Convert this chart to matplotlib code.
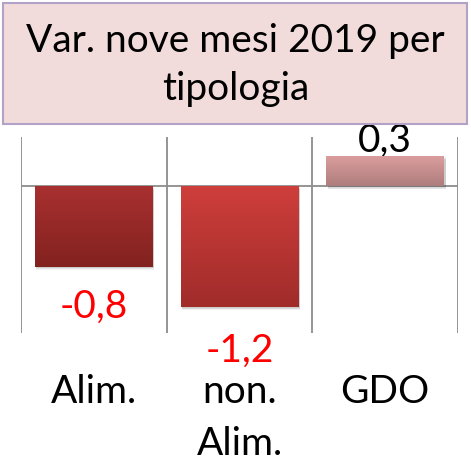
import numpy as np
import matplotlib.pyplot as plt
from matplotlib.patches import Rectangle
from matplotlib.colors import LinearSegmentedColormap

categories = [['Alim.'], ['non.', 'Alim.'], ['GDO']]
values = [-0.8, -1.2, 0.3]
value_labels = ['-0,8', '-1,2', '0,3']
label_colors = ['#FF0000', '#FF0000', '#000000']
# gradient colours (top, bottom) for each bar
grad_top = ['#A83030', '#CE3E3B', '#DC9E9E']
grad_bot = ['#82221F', '#A02C2A', '#AE7D7D']

plt.rcParams['font.family'] = ['Lato', 'DejaVu Sans']

W, H = 471, 469
fig = plt.figure(figsize=(W / 100, H / 100), dpi=100)

# title box
fig.patches.append(Rectangle((3 / W, 1 - 124 / H), 464 / W, 121 / H,
                             transform=fig.transFigure, fc='#F2DCDB',
                             ec='#B3A2C7', lw=1.5))
fig.text(0.5, 1 - 52 / H, 'Var. nove mesi 2019 per', ha='center', va='baseline', fontsize=28)
fig.text(0.5, 1 - 100 / H, 'tipologia', ha='center', va='baseline', fontsize=28)

ax = fig.add_axes([21 / W, 1 - 333 / H, 437 / W, 196 / H])
x = np.arange(len(values))
width = 0.81

# shadows
for xi, v in zip(x, values):
    for k in range(4):
        off = 0.012 + k * 0.006
        ax.add_patch(Rectangle((xi - width / 2 + 0.01, min(0, v) - off), width, abs(v),
                               fc='black', alpha=0.05, lw=0, zorder=2))

bars = ax.bar(x, values, width=width, color=grad_top, zorder=3)
for b, ct, cb in zip(bars, grad_top, grad_bot):
    cmap = LinearSegmentedColormap.from_list('g', [cb, ct])
    bx, by = b.get_x(), b.get_y()
    bw, bh = b.get_width(), b.get_height()
    grad = np.linspace(0, 1, 100).reshape(-1, 1)
    im = ax.imshow(grad, cmap=cmap, origin='lower', aspect='auto',
                   extent=[bx, bx + bw, min(by, by + bh), max(by, by + bh)], zorder=4)
    im.set_clip_path(b)

ax.set_xlim(-0.5, len(values) - 0.5)
ax.set_ylim(-1.46, 0.49)

# separators and zero line
for xs in np.arange(-0.5, len(values), 1.0):
    ax.axvline(xs, color='#8C8C8C', lw=1.3, zorder=1)
ax.axhline(0, color='#8C8C8C', lw=1.3, zorder=1)

label_y = [-1.31, -1.75, 0.34]
for xi, t, c, ly in zip(x, value_labels, label_colors, label_y):
    ax.text(xi, ly, t, ha='center', va='baseline', fontsize=28, color=c, clip_on=False)

ax.set_xticks([])
ax.set_yticks([])
for s in ax.spines.values():
    s.set_visible(False)

line_y = [-2.157, -2.675]
for xi, lines in zip(x, categories):
    for ly, t in zip(line_y, lines):
        ax.text(xi, ly, t, ha='center', va='baseline', fontsize=28, clip_on=False)

fig.savefig('out.png', dpi=100)
